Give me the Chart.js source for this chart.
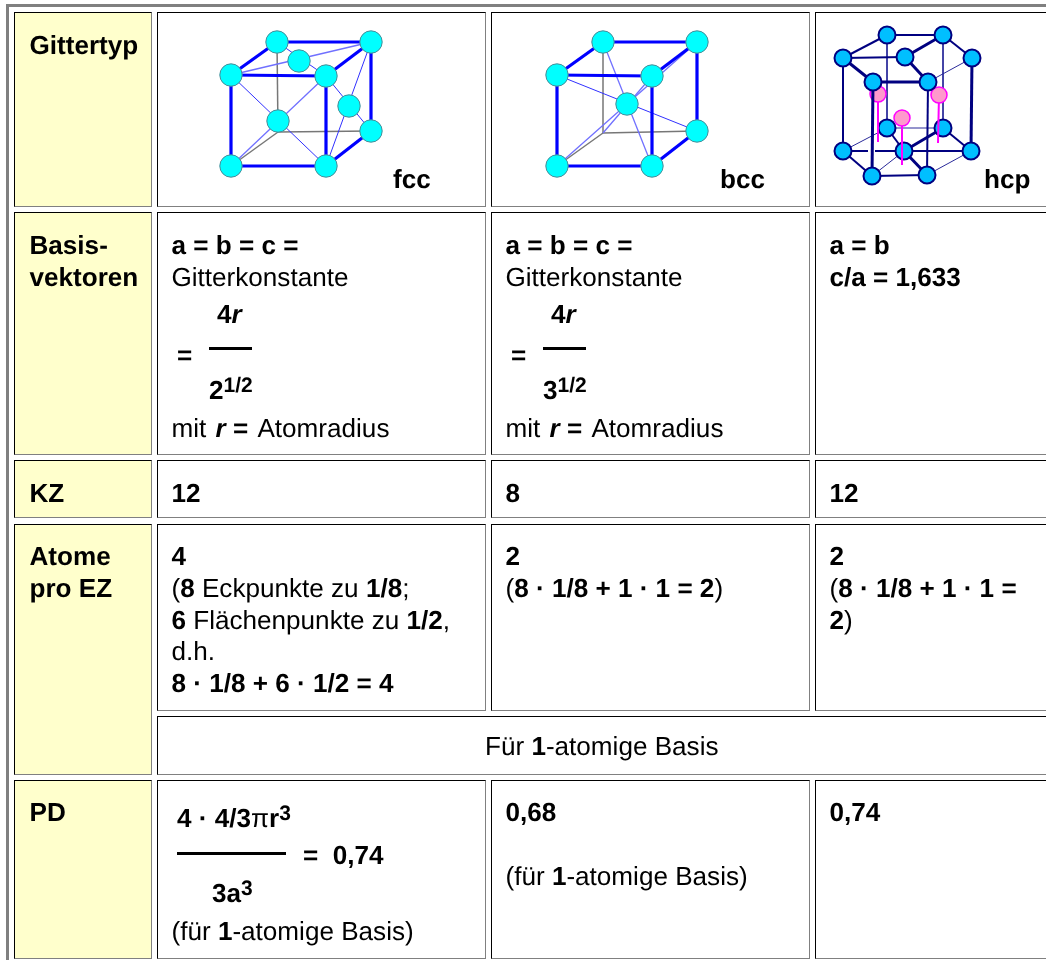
<!DOCTYPE html>
<html lang="de"><head><meta charset="utf-8"><title>Gittertypen</title>
<script src="https://cdn.jsdelivr.net/npm/chart.js@4"></script>
<style>
html,body{margin:0;padding:0;background:#fff;width:1046px;height:960px;overflow:hidden}
#page{position:relative;width:1046px;height:960px;overflow:hidden;font-family:"Liberation Sans",Arial,sans-serif;color:#000}
.frameT{position:absolute;left:6px;top:4px;width:1040px;height:3px;background:#808080}
.frameL{position:absolute;left:6px;top:4px;width:3px;height:956px;background:#808080}
.cell{position:absolute;box-sizing:border-box;border-style:solid;border-width:1px;border-color:#000 #808080 #808080 #000;background:#fff}
.y{background:#ffffcc}
.t{position:absolute;white-space:nowrap;font-size:26.1px;line-height:30px;text-rendering:geometricPrecision;filter:blur(.3px)}
.rule{position:absolute;background:#000}
.s{font-size:21px;position:relative;top:-7px}
.g2{margin-left:2px}
b{font-weight:bold} i{font-style:italic}
canvas{position:absolute;filter:blur(.3px)}
</style></head><body><div id="page">
<div class="frameT"></div><div class="frameL"></div>
<canvas id="fcc" width="327" height="193" style="left:158px;top:13px"></canvas>
<canvas id="bcc" width="317" height="193" style="left:492px;top:13px"></canvas>
<canvas id="hcp" width="230" height="193" style="left:816px;top:13px"></canvas>
</div>
<script>
// ---- table layout: left, top, right, bottom, yellow
const tableCells = [
 [14,12,152,207,1],[157,12,486,207,0],[491,12,810,207,0],[815,12,1060,207,0],
 [14,212,152,455,1],[157,212,486,455,0],[491,212,810,455,0],[815,212,1060,455,0],
 [14,460,152,518,1],[157,460,486,518,0],[491,460,810,518,0],[815,460,1060,518,0],
 [14,524,152,775,1],[157,524,486,711,0],[491,524,810,711,0],[815,524,1060,711,0],
 [157,716,1060,775,0],
 [14,780,152,959,1],[157,780,486,959,0],[491,780,810,959,0],[815,780,1060,959,0]
];
// ---- text: x, baseline, html
const S = h => '<span class="s">'+h+'</span>';
const MIT = 'mit <b class="g2"><i>r</i> =</b> <span class="g2">Atomradius</span>';
const tableText = [
 [29.5,54,'<b>Gittertyp</b>'],[393,188,'<b>fcc</b>'],[720,188,'<b>bcc</b>'],[984,188,'<b>hcp</b>'],
 [29.5,254,'<b>Basis-</b>'],[29.5,286,'<b>vektoren</b>'],
 [171.5,254,'<b>a = b = c =</b>'],[171.5,286,'Gitterkonstante'],[217,323,'<b>4<i>r</i></b>'],[177,364,'<b>=</b>'],
 [209,399,'<b>2'+S('1/2')+'</b>'],[171.5,437,MIT],
 [505.5,254,'<b>a = b = c =</b>'],[505.5,286,'Gitterkonstante'],[551,323,'<b>4<i>r</i></b>'],[511,364,'<b>=</b>'],
 [543,399,'<b>3'+S('1/2')+'</b>'],[505.5,437,MIT],
 [829.5,254,'<b>a = b</b>'],[829.5,286,'<b>c/a = 1,633</b>'],
 [29.5,502,'<b>KZ</b>'],[171.5,502,'<b>12</b>'],[505.5,502,'<b>8</b>'],[829.5,502,'<b>12</b>'],
 [29.5,565,'<b>Atome</b>'],[29.5,597,'<b>pro EZ</b>'],
 [171.5,565,'<b>4</b>'],[171.5,597,'(<b>8</b> Eckpunkte zu <b>1/8</b>;'],[171.5,629,'<b>6</b> Flächenpunkte zu <b>1/2</b>,'],
 [171.5,660,'d.h.'],[171.5,692,'<b>8 · 1/8 + 6 · 1/2 = 4</b>'],
 [505.5,565,'<b>2</b>'],[505.5,597,'(<b>8 · 1/8 + 1 · 1 = 2</b>)'],
 [829.5,565,'<b>2</b>'],[829.5,597,'(<b>8 · 1/8 + 1 · 1 =</b>'],[829.5,629,'<b>2</b>)'],
 [485,755,'Für <b>1</b>-atomige Basis'],
 [29.5,821,'<b>PD</b>'],[177,827,'<b>4 · 4/3</b>π<b>r'+S('3')+'</b>'],[303,864,'<b>=&nbsp; 0,74</b>'],[212,902,'<b>3a'+S('3')+'</b>'],
 [171.5,940,'(für <b>1</b>-atomige Basis)'],
 [505.5,821,'<b>0,68</b>'],[505.5,885,'(für <b>1</b>-atomige Basis)'],[829.5,821,'<b>0,74</b>']
];
const fractionRules = [[209,347,43,3],[543,347,43,3],[177,852,109,3]];

// ---- lattice atoms (positions)
const fccAtoms = {A:[277,42],B:[371,42],C:[231,75],D:[326,76],E:[371,131],F:[231,166],G:[326,166],T:[299,61],R:[349,106],M:[278,121]};
const fccCorner = {H:[278,132]};
const fccThick = [['A','B'],['C','A'],['C','D'],['B','D'],['B','E'],['C','F'],['D','G'],['F','G'],['G','E']];
const fccThin = [['A','D'],['D','E'],['C','G'],['B','G']];
const fccPale = [['C','B'],['D','F']];
const fccHidden = [['A','H'],['H','E'],['H','F']];
const fccOrder = ['A','B','C','D','E','F','G','M','T','R'];

const bccAtoms = {A:[603,42],B:[697,42],C:[557,75],D:[652,76],E:[697,131],F:[557,166],G:[652,166],M:[627,104]};
const bccCorner = {H:[603,133]};
const bccThick = [['A','B'],['C','A'],['C','D'],['B','D'],['B','E'],['C','F'],['D','G'],['F','G'],['G','E']];
const bccThin = [['C','E']];
const bccPale = [['A','G'],['F','B'],['D','H']];
const bccHidden = [['A','H'],['H','E'],['H','F']];
const bccOrder = ['A','B','C','D','E','F','G','M'];

const hcpAtoms = {TBL:[887,35],TBR:[943,35],TL:[843,58],TR:[972,58],TFL:[873,82],TFR:[928,82],TC:[905,57],
 BBL:[887,128],BBR:[943,128],BL:[843,151],BR:[971,151],BFL:[872,176],BFR:[927,175],BC:[904,151]};
const hcpGap = {G1:[868,151],G2:[875,151]};
const hcpBonds1 = [['TR','TFR'],['TBL','BBL'],['TBR','BBR'],['BL','BBL'],['BBL','BBR'],['BC','BFL'],['BFR','BR']];
const hcpBonds2 = [['TBL','TBR'],['TBR','TR'],['TL','TC'],['BBR','BR'],['BC','BR'],['TL','TBL'],['TFR','BFR'],['TL','BL'],['BC','BBL'],['BL','G1'],['G2','BC'],['BFR','BFL'],['BFL','BL']];
const hcpBonds3 = [['TFR','TFL'],['TFL','TL'],['TC','TFR'],['TC','TBR'],['TR','BR'],['BC','BBR'],['BC','BFR']];
const hcpFront = [['TFL','BFL']];
const hcpInner = {P1:[878,94],P2:[939,95],P3:[902,118]};
const hcpStemEnds = {Q1:[878,142],Q2:[938,143],Q3:[902,165]};
const hcpStems = [['P1','Q1'],['P2','Q2'],['P3','Q3']];
const hcpLower = ['BBL','BBR','BL','BR','BC'];
const hcpUpper = ['TBL','TBR','TL','TR','TC','TFL','TFR','BFL','BFR'];

// ---- build page
const page = document.getElementById('page');
tableCells.forEach(c=>{const d=document.createElement('div');d.className='cell'+(c[4]?' y':'');
 d.style.cssText=`left:${c[0]}px;top:${c[1]}px;width:${c[2]-c[0]}px;height:${c[3]-c[1]}px`;page.insertBefore(d,page.children[2]);});
tableText.forEach(t=>{const d=document.createElement('div');d.className='t';d.innerHTML=t[2];
 d.style.left=t[0]+'px';d.style.top=(t[1]-24)+'px';page.appendChild(d);});
fractionRules.forEach(r=>{const d=document.createElement('div');d.className='rule';
 d.style.cssText=`left:${r[0]}px;top:${r[1]}px;width:${r[2]}px;height:${r[3]}px`;page.appendChild(d);});

const pt = p => ({x:p[0],y:p[1]});
function bonds(list,where,color,width){
 return list.map(b=>({type:'scatter',showLine:true,pointRadius:0,borderColor:color,borderWidth:width,data:[pt(where[b[0]]),pt(where[b[1]])]}));
}
function atoms(names,where,radius,fill,edge,edgeW){
 return [{type:'scatter',showLine:false,pointRadius:radius,pointBackgroundColor:fill,pointBorderColor:edge,pointBorderWidth:edgeW,data:names.map(n=>pt(where[n]))}];
}
function draw(id,x0,layers){ // layers are in paint order; Chart.js paints the first dataset last
 const cv=document.getElementById(id);
 new Chart(cv,{type:'scatter',data:{datasets:layers.slice().reverse()},options:{
  responsive:false,animation:false,events:[],
  layout:{padding:0,autoPadding:false},
  plugins:{legend:{display:false},tooltip:{enabled:false},title:{display:false}},
  scales:{x:{type:'linear',display:false,min:x0,max:x0+cv.width},y:{type:'linear',display:false,reverse:true,min:13,max:13+cv.height}}
 }});
}
const BLUE='#0000ff',THIN='#3030ff',PALE='#7070ff',GREY='#777777',EDGE='#4a8a96';
const fp={...fccAtoms,...fccCorner}, bp={...bccAtoms,...bccCorner}, hp={...hcpAtoms,...hcpGap,...hcpInner,...hcpStemEnds};
draw('fcc',158,[
 ...bonds(fccHidden,fp,GREY,1.5),...bonds(fccPale,fp,PALE,1.3),...bonds(fccThin,fp,THIN,1),...bonds(fccThick,fp,BLUE,3.2),
 ...atoms(fccOrder,fp,11.2,'#00ffff',EDGE,1)]);
draw('bcc',492,[
 ...bonds(bccHidden,bp,GREY,1.5),...bonds(bccPale,bp,PALE,1.3),...bonds(bccThin,bp,THIN,1),...bonds(bccThick,bp,BLUE,3.2),
 ...atoms(bccOrder,bp,11.2,'#00ffff',EDGE,1)]);
const NAVY='#000080';
draw('hcp',816,[
 ...bonds(hcpBonds1,hp,'#2a2a9a',1),...bonds(hcpBonds2,hp,NAVY,2),...bonds(hcpBonds3,hp,NAVY,3),
 ...atoms(hcpLower,hp,8.5,'#00bfff',NAVY,2),
 ...bonds(hcpStems,hp,'#ff00ff',2),
 ...atoms(['P1','P2','P3'],hp,8,'#ff99cc','#ff00ff',1.5),
 ...bonds(hcpFront,hp,NAVY,3),
 ...atoms(hcpUpper,hp,8.5,'#00bfff',NAVY,2)]);
</script></body></html>
